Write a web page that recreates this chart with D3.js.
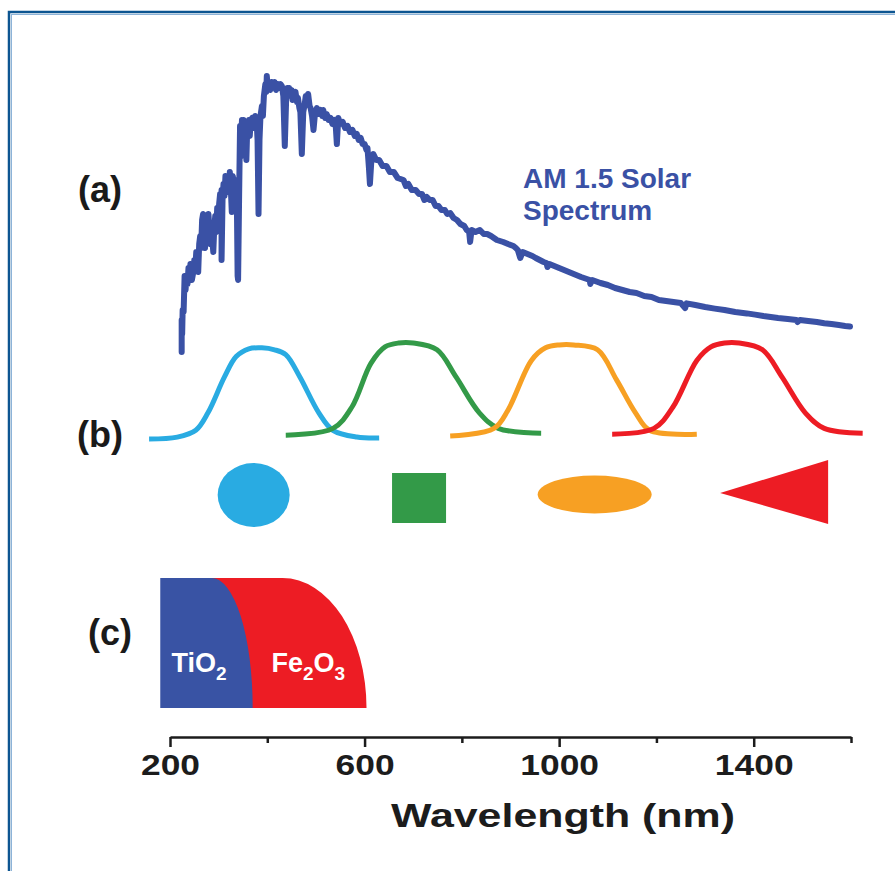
<!DOCTYPE html>
<html>
<head>
<meta charset="utf-8">
<script src="https://cdnjs.cloudflare.com/ajax/libs/d3/7.8.5/d3.min.js"></script>
<style>
	html, body { margin: 0; padding: 0; background: #fff; }
	#outer { overflow: hidden; }
	text { font-family: 'Liberation Sans', Arial, sans-serif; font-weight: bold; }
</style>
</head>
<body>
<div id="outer"></div>
<script>

////////// Hard Coded Defs //////////

const tickMajor = [200, 600, 1000, 1400];
const tickMinor = [400, 800, 1200, 1600];
const panelLabels = ['(a)', '(b)', '(c)'];

// AM 1.5 irradiance (arb. units), [nm, value]
const solarSpectrum = [
	[224,0.24],[224,0.40],[225,0.33],[226,0.45],[228,0.44],[230,0.62],[232,0.55],[234,0.62],[236,0.58],[238,0.66],
	[240,0.62],[242,0.68],[245,0.60],[248,0.64],[250,0.70],[252,0.66],[254,0.74],[256,0.70],[258,0.64],[260,0.78],
	[262,0.82],[264,0.76],[266,0.90],[268,0.93],[270,0.84],[272,0.76],[274,0.88],[276,0.82],[279,0.93],[281,0.86],
	[283,0.78],[285,0.88],[287,0.80],[289,0.74],[291,0.86],[293,0.92],[295,0.84],[297,0.96],[299,0.90],[301,0.98],
	[303,1.03],[305,0.96],[306,1.05],[306,0.70],[308,1.00],[310,1.08],[312,1.02],[314,1.12],[316,1.06],[318,1.10],
	[321,1.04],[323,1.14],[325,1.06],[327,0.94],[329,1.12],[332,1.08],[335,0.96],[337,1.10],[339,0.62],[340,0.60],
	[342,1.00],[344,1.37],[346,1.30],[348,1.40],[350,1.34],[351,1.40],[353,1.22],[355,1.36],[357,1.20],[359,1.38],
	[362,1.40],[364,1.32],[366,1.40],[369,1.41],[372,1.36],[375,1.42],[378,1.40],[380,1.30],[382,0.93],[384,1.30],
	[386,1.42],[389,1.47],[391,1.42],[393,1.52],[396,1.58],[398,1.54],[399,1.62],[401,1.56],[403,1.59],[406,1.55],
	[409,1.59],[412,1.57],[415,1.59],[418,1.55],[421,1.58],[424,1.56],[427,1.58],[430,1.57],[433,1.52],[436,1.27],
	[439,1.52],[441,1.56],[443,1.52],[445,1.56],[447,1.53],[450,1.55],[452,1.50],[455,1.53],[458,1.54],[461,1.49],
	[463,1.51],[466,1.46],[468,1.44],[471,1.23],[474,1.44],[477,1.48],[479,1.52],[482,1.48],[484,1.53],[487,1.47],
	[489,1.46],[492,1.42],[495,1.35],[498,1.43],[502,1.46],[505,1.43],[510,1.45],[513,1.42],[515,1.45],[519,1.41],
	[522,1.43],[526,1.40],[530,1.41],[534,1.38],[538,1.40],[541,1.36],[543,1.28],[546,1.41],[550,1.38],[555,1.39],
	[560,1.36],[565,1.37],[570,1.34],[575,1.35],[580,1.32],[584,1.33],[588,1.30],[592,1.31],[596,1.28],[600,1.28],
	[604,1.25],[606,1.26],[609,1.16],[611,1.08],[614,1.20],[618,1.23],[624,1.20],[630,1.20],[637,1.17],[645,1.17],
	[652,1.14],[660,1.14],[668,1.11],[680,1.10],[685,1.07],[690,1.08],[697,1.05],[705,1.05],[712,1.03],[718,1.03],
	[723,1.00],[728,1.015],[734,1.00],[740,1.00],[746,0.97],[752,0.97],[758,0.95],[765,0.95],[770,0.93],[776,0.935],
	[783,0.91],[790,0.90],[797,0.88],[805,0.87],[810,0.85],[815,0.84],[817,0.79],[820,0.85],[828,0.84],[837,0.85],
	[845,0.83],[852,0.83],[860,0.82],[872,0.80],[885,0.79],[895,0.78],[906,0.77],[911,0.76],[915,0.75],[920,0.71],
	[925,0.74],[935,0.73],[945,0.72],[952,0.71],[960,0.70],[968,0.69],[974,0.685],[976,0.665],[980,0.68],[990,0.67],
	[1000,0.66],[1015,0.645],[1030,0.63],[1045,0.615],[1063,0.60],[1064,0.58],[1068,0.60],[1085,0.585],[1100,0.575],
	[1115,0.56],[1130,0.55],[1145,0.54],[1159,0.535],[1175,0.52],[1190,0.515],[1205,0.50],[1220,0.495],[1235,0.49],
	[1250,0.485],[1259,0.46],[1262,0.483],[1280,0.475],[1300,0.465],[1320,0.457],[1340,0.45],[1362,0.44],[1386,0.433],
	[1403,0.427],[1420,0.42],[1435,0.415],[1450,0.41],[1470,0.405],[1488,0.40],[1490,0.39],[1495,0.40],[1512,0.395],
	[1530,0.39],[1545,0.384],[1560,0.38],[1575,0.375],[1588,0.37],[1598,0.367]
];

// absorber responses, [nm, relative]
const responseBlue = [[157,0.01],[215,0.03],[253,0.10],[278,0.28],[312,0.65],[336,0.86],[362,0.94],[389,0.95],[415,0.93],[438,0.88],[467,0.65],[506,0.28],[535,0.10],[584,0.03],[630,0.02]];
const responseGreen = [[438,0.05],[535,0.12],[574,0.34],[613,0.79],[642,0.96],[670,1.0],[700,1.0],[749,0.93],[788,0.65],[836,0.28],[875,0.12],[963,0.07]];
const responseOrange = [[776,0.04],[866,0.12],[895,0.31],[943,0.82],[972,0.95],[1000,0.98],[1030,0.98],[1079,0.93],[1118,0.62],[1157,0.28],[1186,0.10],[1283,0.06]];
const responseRed = [[1109,0.06],[1195,0.12],[1234,0.34],[1283,0.82],[1312,0.96],[1340,1.0],[1370,1.0],[1418,0.93],[1458,0.65],[1506,0.28],[1545,0.12],[1624,0.07]];

// centre wavelength of each absorber symbol
const shapeCentres = [372, 712, 1073, 1442];

// band edges for panel (c), nm
const absorberNames = ['TiO2', 'Fe2O3'];
const absorberEdges = [180, 370, 604];


////////////////////////////////////////////////////////////////
	// SETUP
////////////////////////////////////////////////////////////////
const jqWidth = 895;
const jqHeight = 871;

const x = d3.scaleLinear().domain([200, 1600]).range([170, 851]);
const yA = d3.scaleLinear().domain([0, 1.6]).range([400, 80]);
const yB = d3.scaleLinear().domain([0, 1]).range([440, 343]);

const colors = {
	spectrum: '#3a51a5',
	blue: '#29abe2',
	green: '#339a48',
	orange: '#f7a023',
	red: '#ed1c24',
	tio2: '#3953a4',
	axis: '#1c1c1c'
};

const stretch = (sel, factor) => sel.each(function () {
	const w = this.getComputedTextLength();
	d3.select(this).attr('textLength', w * factor).attr('lengthAdjust', 'spacingAndGlyphs');
});


////////////////////////////////////////////////////////////////
	// Render
////////////////////////////////////////////////////////////////
const svg = d3.select('#outer')
	.style('width', jqWidth + 'px')
	.style('height', jqHeight + 'px')
	.append('svg')
	.attr('width', jqWidth)
	.attr('height', jqHeight);

// FRAME //
svg.append('rect')
	.attr('x', 9).attr('y', 12)
	.attr('width', 1000).attr('height', 1000)
	.attr('fill', 'none').attr('stroke', '#0d5591').attr('stroke-width', 2.5);
svg.append('rect')
	.attr('x', 11.5).attr('y', 14.5)
	.attr('width', 1000).attr('height', 1000)
	.attr('fill', 'none').attr('stroke', '#8db3d8').attr('stroke-width', 1);

// PANEL LABELS //
const labelPos = [[100, 202], [100, 447], [110, 645]];
svg.selectAll('.panelLabel')
	.data(panelLabels)
	.join('text')
	.attr('class', 'panelLabel')
	.attr('x', (d, i) => labelPos[i][0])
	.attr('y', (d, i) => labelPos[i][1])
	.attr('text-anchor', 'middle')
	.attr('font-size', 36)
	.attr('fill', '#1a1a1a')
	.text(d => d);

// (a) SOLAR SPECTRUM //
svg.append('path')
	.datum(solarSpectrum)
	.attr('fill', 'none')
	.attr('stroke', colors.spectrum)
	.attr('stroke-width', 6)
	.attr('stroke-linejoin', 'round')
	.attr('stroke-linecap', 'round')
	.attr('d', d3.line().x(d => x(d[0])).y(d => yA(d[1])));

const title = svg.append('text')
	.attr('font-size', 28)
	.attr('fill', colors.spectrum);
title.append('tspan').attr('x', 523).attr('y', 188).text('AM 1.5 Solar');
title.append('tspan').attr('x', 523).attr('y', 220).text('Spectrum');

// (b) RESPONSE CURVES //
const bLine = d3.line()
	.x(d => x(d[0]))
	.y(d => yB(d[1]))
	.curve(d3.curveCatmullRom.alpha(0.5));

[[responseBlue, colors.blue], [responseGreen, colors.green], [responseOrange, colors.orange], [responseRed, colors.red]]
	.forEach(([pts, c]) => {
		svg.append('path')
			.datum(pts)
			.attr('fill', 'none')
			.attr('stroke', c)
			.attr('stroke-width', 5)
			.attr('d', bLine);
	});

// SYMBOLS //
const symY = 494;
svg.append('ellipse')
	.attr('cx', x(shapeCentres[0])).attr('cy', symY + 1)
	.attr('rx', 36).attr('ry', 32)
	.attr('fill', colors.blue);
svg.append('rect')
	.attr('x', x(shapeCentres[1]) - 27).attr('y', symY - 21)
	.attr('width', 54).attr('height', 50)
	.attr('fill', colors.green);
svg.append('ellipse')
	.attr('cx', x(shapeCentres[2])).attr('cy', symY + 0.5)
	.attr('rx', 57).attr('ry', 19)
	.attr('fill', colors.orange);
const tcx = x(shapeCentres[3]);
svg.append('path')
	.attr('d', `M${tcx - 54},${symY - 1}L${tcx + 54},${symY - 34}L${tcx + 54},${symY + 30}Z`)
	.attr('fill', colors.red);

// (c) ABSORBERS //
const cTop = 578, cBot = 708;
const xStart = x(absorberEdges[0]);
const xTi = x(absorberEdges[1]);
const xFe = x(absorberEdges[2]);
const rTi = 41, rFe = 84;

svg.append('rect')
	.attr('x', xStart).attr('y', cTop)
	.attr('width', xTi - xStart + 4).attr('height', cBot - cTop)
	.attr('fill', colors.tio2);

svg.append('path')
	.attr('d', `M${xTi - rTi},${cTop}L${xFe - rFe},${cTop}` +
		`A${rFe},${cBot - cTop} 0 0 1 ${xFe},${cBot}` +
		`L${xTi},${cBot}` +
		`A${rTi},${cBot - cTop} 0 0 0 ${xTi - rTi},${cTop}Z`)
	.attr('fill', colors.red);

const tiText = svg.append('text')
	.attr('x', 171.5).attr('y', 672)
	.attr('font-size', 27)
	.attr('fill', '#fff');
tiText.append('tspan').text('TiO');
tiText.append('tspan').attr('dy', 8).attr('font-size', 19).text('2');

const feText = svg.append('text')
	.attr('x', 271.5).attr('y', 672)
	.attr('font-size', 27)
	.attr('fill', '#fff');
feText.append('tspan').text('Fe');
feText.append('tspan').attr('dy', 8).attr('font-size', 19).text('2');
feText.append('tspan').attr('dy', -8).text('O');
feText.append('tspan').attr('dy', 8).attr('font-size', 19).text('3');

// AXIS //
const axisY = 737;
const axisG = svg.append('g')
	.attr('transform', `translate(0,${axisY})`)
	.call(d3.axisBottom(x).tickValues(tickMajor).tickFormat(d3.format('d')).tickSize(10).tickSizeOuter(0).tickPadding(8));
svg.append('g')
	.attr('transform', `translate(0,${axisY})`)
	.call(d3.axisBottom(x).tickValues(tickMinor).tickSize(6).tickSizeOuter(0).tickFormat(''))
	.select('.domain').remove();

svg.selectAll('.tick line, .domain')
	.attr('stroke', colors.axis)
	.attr('stroke-width', 2.5);

axisG.selectAll('.tick text')
	.attr('font-family', "'Liberation Sans', Arial, sans-serif")
	.attr('font-weight', 'bold')
	.attr('font-size', 29)
	.attr('fill', colors.axis)
	.attr('dy', null)
	.attr('y', 38)
	.call(stretch, 1.22);

svg.append('text')
	.attr('x', 563).attr('y', 827)
	.attr('text-anchor', 'middle')
	.attr('font-size', 33)
	.attr('fill', colors.axis)
	.text('Wavelength (nm)')
	.call(stretch, 1.3);

</script>
</body>
</html>
